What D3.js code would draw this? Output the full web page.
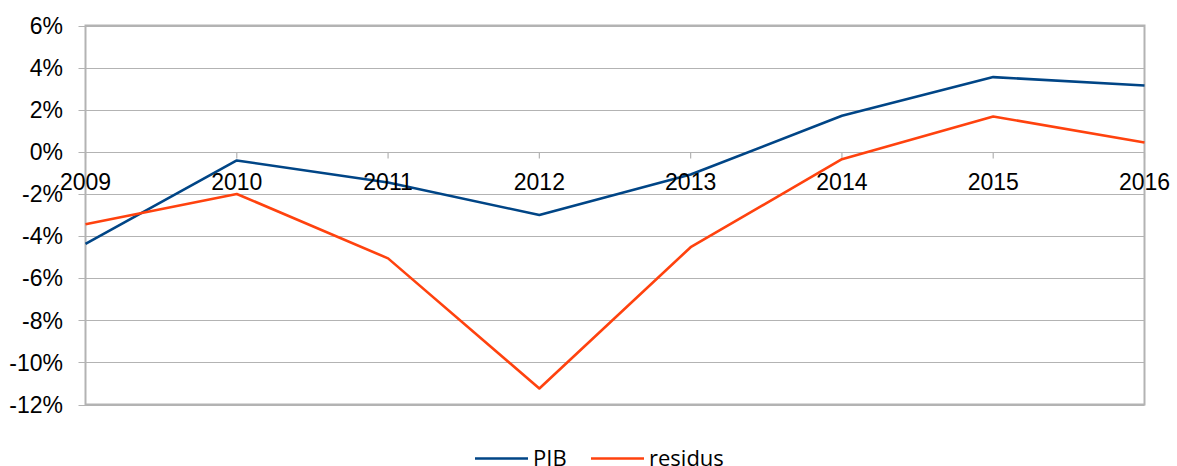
<!DOCTYPE html>
<html>
<head>
<meta charset="utf-8">
<script src="https://cdn.jsdelivr.net/npm/d3@7"></script>
<style>
  html, body { margin: 0; padding: 0; background: #fff; }
  svg { display: block; }
</style>
</head>
<body>
<svg id="chart" width="1177" height="466"></svg>
<script>
  // 数值读自原图 (百分比)
  const years = ["2009", "2010", "2011", "2012", "2013", "2014", "2015", "2016"];
  const pib = [-4.37, -0.41, -1.46, -3.0, -1.08, 1.71, 3.55, 3.15];
  const residus = [-3.44, -2.0, -5.06, -11.24, -4.53, -0.35, 1.68, 0.44];
  const yTicks = [6, 4, 2, 0, -2, -4, -6, -8, -10, -12];
  const series = [
    { name: "PIB", values: pib, color: "#004586" },
    { name: "residus", values: residus, color: "#ff420e" }
  ];

  const svg = d3.select("#chart");
  const L = 85.5, R = 1144.5, T = 25.5, B = 404.5;
  const x = d3.scalePoint().domain(years).range([L, R]);
  const y = d3.scaleLinear().domain([-12, 6]).range([B, T]);
  const GRID = "#b3b3b3";

  // 网格线 + 左侧刻度
  svg.append("g").selectAll("line").data(yTicks).join("line")
    .attr("x1", L - 7).attr("x2", R)
    .attr("y1", (d) => Math.round(y(d)) + 0.5).attr("y2", (d) => Math.round(y(d)) + 0.5)
    .attr("stroke", GRID).attr("stroke-width", 1.2);

  // 绘图区边框
  svg.append("rect").attr("x", L).attr("y", T).attr("width", R - L).attr("height", B - T)
    .attr("fill", "none").attr("stroke", GRID).attr("stroke-width", 2);

  // x 轴 (在 0% 处)
  const y0 = Math.round(y(0)) + 0.5;
  svg.append("g").selectAll("line").data(years).join("line")
    .attr("x1", (d) => x(d)).attr("x2", (d) => x(d))
    .attr("y1", y0).attr("y2", y0 + 6)
    .attr("stroke", GRID).attr("stroke-width", 1.2);

  // y 轴标签
  svg.append("g").selectAll("text").data(yTicks).join("text")
    .attr("x", 63).attr("y", (d) => y(d))
    .attr("dy", "0.36em").attr("text-anchor", "end")
    .attr("font-family", "'Liberation Sans', Arial, sans-serif").attr("font-size", 23)
    .attr("fill", "#000").text((d) => d + "%");

  // 线
  const line = d3.line().x((d, i) => x(years[i])).y((d) => y(d));
  series.forEach((s) => {
    svg.append("path").datum(s.values).attr("d", line)
      .attr("fill", "none").attr("stroke", s.color).attr("stroke-width", 2.6)
      .attr("stroke-linejoin", "round");
  });

  // x 轴标签 (画在线之上)
  svg.append("g").selectAll("text").data(years).join("text")
    .attr("x", (d) => x(d)).attr("y", 189.5).attr("text-anchor", "middle")
    .attr("font-family", "'Liberation Sans', Arial, sans-serif").attr("font-size", 23)
    .attr("fill", "#000").text((d) => d);

  // 图例
  const lg = svg.append("g");
  const legX = [475, 591];
  series.forEach((s, i) => {
    lg.append("line").attr("x1", legX[i]).attr("x2", legX[i] + 53)
      .attr("y1", 458.5).attr("y2", 458.5)
      .attr("stroke", s.color).attr("stroke-width", 2.6);
    lg.append("text").attr("x", legX[i] + 58).attr("y", 466)
      .attr("font-family", "'Open Sans', sans-serif").attr("font-size", 22)
      .attr("fill", "#000").text(s.name);
  });
</script>
</body>
</html>
